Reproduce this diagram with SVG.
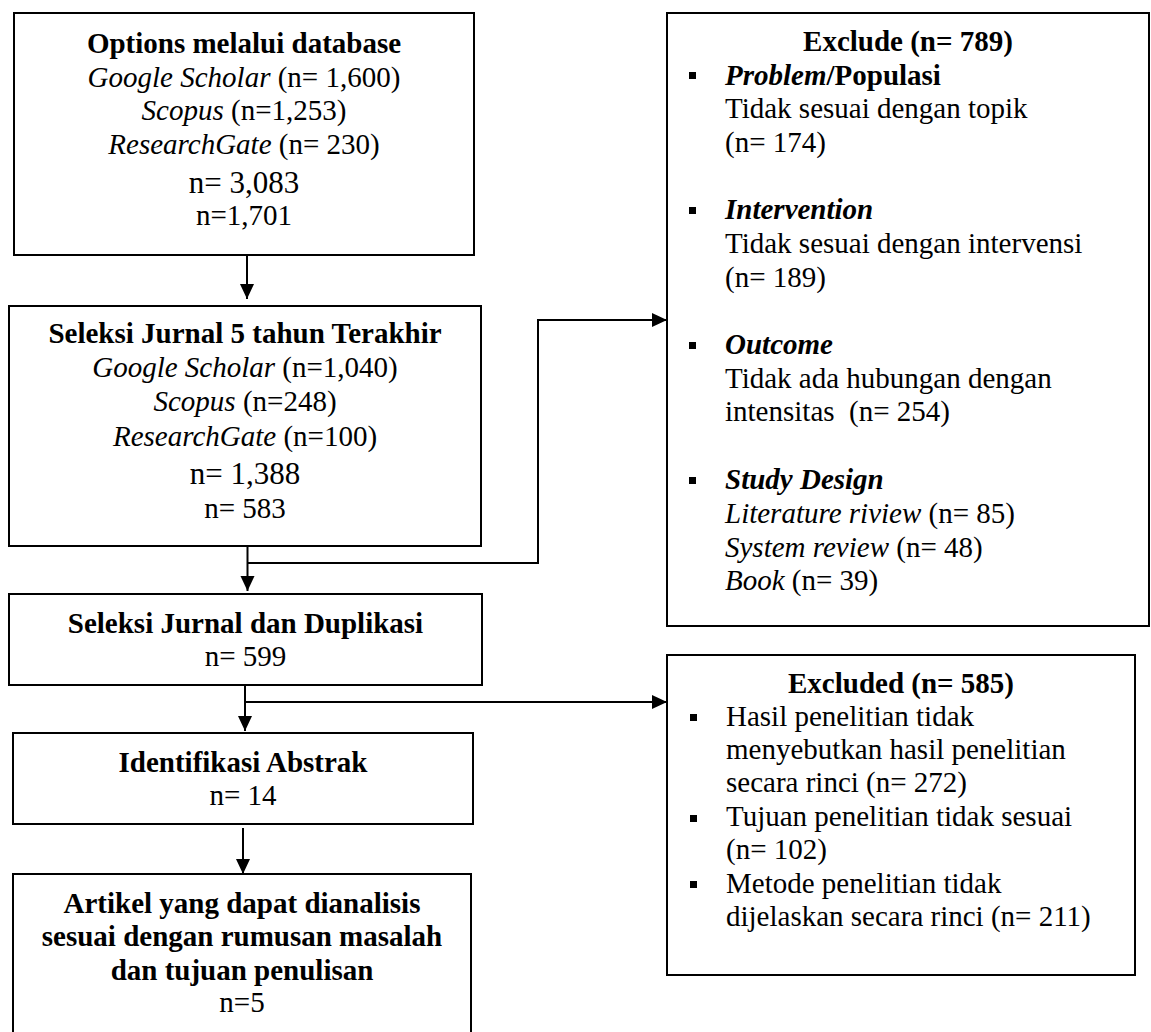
<svg xmlns="http://www.w3.org/2000/svg" width="1151" height="1032" viewBox="0 0 1151 1032">
<style>
text{font-family:"Liberation Serif","Times New Roman",serif;font-size:29px;fill:#000}
.c{text-anchor:middle}
.b{font-weight:bold}
.i{font-style:italic}
.big{font-size:31px}
.box{fill:#fff;stroke:#000;stroke-width:2}
.ln{fill:none;stroke:#000;stroke-width:2}
.pre{white-space:pre}
</style>
<defs>
<marker id="ah" markerUnits="userSpaceOnUse" markerWidth="16" markerHeight="16" refX="15" refY="7" orient="auto">
<path d="M0,0 L15,7 L0,14 Z" fill="#000"/>
</marker>
<rect id="bul" width="7" height="7" fill="#000"/>
</defs>
<rect width="1151" height="1032" fill="#fff"/>

<g id="connectors">
<line class="ln" x1="247" y1="255" x2="247" y2="299" marker-end="url(#ah)"/>
<line class="ln" x1="247.5" y1="546" x2="247.5" y2="591" marker-end="url(#ah)"/>
<polyline class="ln" points="247.5,563 538,563 538,320 667,320" marker-end="url(#ah)"/>
<line class="ln" x1="245" y1="685" x2="245" y2="731" marker-end="url(#ah)"/>
<polyline class="ln" points="245,702 667,702" marker-end="url(#ah)"/>
<line class="ln" x1="243" y1="828" x2="243" y2="874" marker-end="url(#ah)"/>
</g>

<g id="n1">
<rect class="box" x="14" y="13" width="460" height="242"/>
<text class="c b" x="244" y="53">Options melalui database</text>
<text class="c" x="244" y="87"><tspan class="i">Google Scholar</tspan> (n= 1,600)</text>
<text class="c" x="244" y="120"><tspan class="i">Scopus</tspan> (n=1,253)</text>
<text class="c" x="244" y="154"><tspan class="i">ResearchGate</tspan> (n= 230)</text>
<text class="c big" x="244" y="193">n= 3,083</text>
<text class="c" x="244" y="225">n=1,701</text>
</g>

<g id="n2">
<rect class="box" x="9" y="306" width="472" height="240"/>
<text class="c b" x="245" y="343">Seleksi Jurnal 5 tahun Terakhir</text>
<text class="c" x="245" y="377"><tspan class="i">Google Scholar</tspan> (n=1,040)</text>
<text class="c" x="245" y="411"><tspan class="i">Scopus</tspan> (n=248)</text>
<text class="c" x="245" y="446"><tspan class="i">ResearchGate</tspan> (n=100)</text>
<text class="c big" x="245" y="484">n= 1,388</text>
<text class="c" x="245" y="518">n= 583</text>
</g>

<g id="n3">
<rect class="box" x="9" y="594" width="473" height="91"/>
<text class="c b" x="245.5" y="633">Seleksi Jurnal dan Duplikasi</text>
<text class="c" x="245.5" y="666">n= 599</text>
</g>

<g id="n4">
<rect class="box" x="13" y="733" width="460" height="91"/>
<text class="c b" x="243" y="772">Identifikasi Abstrak</text>
<text class="c" x="243" y="805">n= 14</text>
</g>

<g id="n5">
<rect class="box" x="13" y="874" width="458" height="170"/>
<text class="c b" x="242" y="913">Artikel yang dapat dianalisis</text>
<text class="c b" x="242" y="946">sesuai dengan rumusan masalah</text>
<text class="c b" x="242" y="980">dan tujuan penulisan</text>
<text class="c" x="242" y="1012">n=5</text>
</g>

<g id="n6">
<rect class="box" x="667" y="13" width="482" height="613"/>
<text class="c b" x="908" y="51">Exclude (n= 789)</text>
<use href="#bul" x="689" y="72"/>
<text x="725" y="85"><tspan class="b i">Problem</tspan><tspan class="b">/Populasi</tspan></text>
<text x="725" y="118">Tidak sesuai dengan topik</text>
<text x="725" y="152">(n= 174)</text>
<use href="#bul" x="689" y="207"/>
<text class="b i" x="725" y="219">Intervention</text>
<text x="725" y="253">Tidak sesuai dengan intervensi</text>
<text x="725" y="287">(n= 189)</text>
<use href="#bul" x="689" y="342"/>
<text class="b i" x="725" y="354">Outcome</text>
<text x="725" y="388">Tidak ada hubungan dengan</text>
<text class="pre" x="725" y="421">intensitas  (n= 254)</text>
<use href="#bul" x="689" y="477"/>
<text class="b i" x="725" y="489">Study Design</text>
<text x="725" y="523"><tspan class="i">Literature riview</tspan> (n= 85)</text>
<text x="725" y="557"><tspan class="i">System review</tspan> (n= 48)</text>
<text x="725" y="590"><tspan class="i">Book</tspan> (n= 39)</text>
</g>

<g id="n7">
<rect class="box" x="667" y="655" width="468" height="320"/>
<text class="c b" x="901" y="693">Excluded (n= 585)</text>
<use href="#bul" x="690" y="714"/>
<text x="726" y="726">Hasil penelitian tidak</text>
<text x="726" y="759">menyebutkan hasil penelitian</text>
<text x="726" y="792">secara rinci (n= 272)</text>
<use href="#bul" x="690" y="815"/>
<text x="726" y="826">Tujuan penelitian tidak sesuai</text>
<text x="726" y="859">(n= 102)</text>
<use href="#bul" x="690" y="881"/>
<text x="726" y="893">Metode penelitian tidak</text>
<text x="726" y="926">dijelaskan secara rinci (n= 211)</text>
</g>
</svg>
